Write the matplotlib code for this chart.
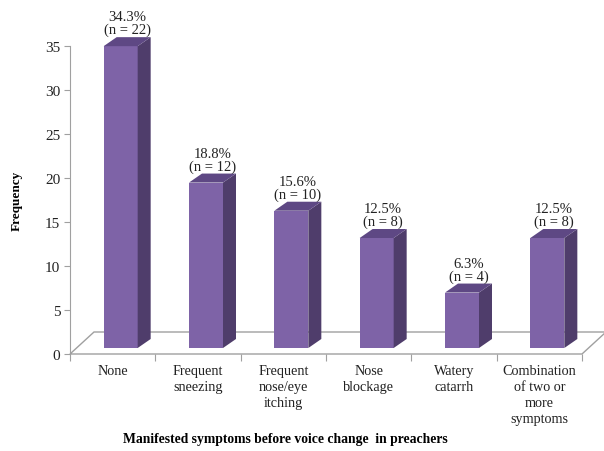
import numpy as np
import matplotlib.pyplot as plt
from matplotlib.patches import Polygon, Rectangle

plt.rcParams['font.family'] = ['Liberation Serif', 'DejaVu Serif']

# DATA

categories = ['None', 'Frequent\nsneezing', 'Frequent\nnose/eye\nitching',
              'Nose\nblockage', 'Watery\ncatarrh',
              'Combination\nof two or\nmore\nsymptoms']
percent = [34.3, 18.8, 15.6, 12.5, 6.3, 12.5]
counts = [22, 12, 10, 8, 4, 8]
yticks = [0, 5, 10, 15, 20, 25, 30, 35]

# COLOURS

front_c = '#7e63a7'
side_c = '#4f3d6b'
top_c = '#5e4884'
grid_c = '#a0a0a0'

# FIGURE (pixel based layout, 604x452)

W, H = 604, 452
fig = plt.figure(figsize=(W/100, H/100), dpi=100)
ax = fig.add_axes([70/W, 97/H, 512/W, 308/H])
ax.set_xlim(0, len(categories))
ax.set_ylim(0, 35)

# data units per pixel
sx = len(categories)/512
sy = 35/308

# floor of the 3d box
fdx, fdy = 24*sx, 22*sy
n = len(categories)
floor = Polygon([(0, 0), (n, 0), (n+fdx, fdy), (fdx, fdy)], closed=True,
                fc='white', ec=grid_c, lw=1, clip_on=False, zorder=1)
ax.add_patch(floor)

# bars (front face, side face, top face)
bw = 34*sx
boff = 0.5 - 9*sx
base = 6*sy
ddx, ddy = 13*sx, 9*sy
for i, (p, c) in enumerate(zip(percent, counts)):
    x0 = i + boff
    y0 = base
    ax.add_patch(Rectangle((x0, y0), bw, p, fc=front_c, ec='none',
                           clip_on=False, zorder=3))
    ax.add_patch(Polygon([(x0+bw, y0), (x0+bw+ddx, y0+ddy),
                          (x0+bw+ddx, y0+p+ddy), (x0+bw, y0+p)],
                         fc=side_c, ec='none', clip_on=False, zorder=3))
    ax.add_patch(Polygon([(x0, y0+p), (x0+bw, y0+p),
                          (x0+bw+ddx, y0+p+ddy), (x0+ddx, y0+p+ddy)],
                         fc=top_c, ec='none', clip_on=False, zorder=3))
    ax.text(x0 + (bw+ddx)/2, y0 + p + ddy + 1*sy, f'{p}%\n(n = {c})',
            ha='center', va='bottom', fontsize=10.5, linespacing=0.95,
            color='#222222', clip_on=False, zorder=4)

# axes styling
for s in ['top', 'right', 'bottom']:
    ax.spines[s].set_visible(False)
ax.spines['left'].set_color(grid_c)
ax.set_yticks(yticks)
ax.tick_params(axis='y', length=4, color=grid_c, labelsize=11, pad=3,
               labelcolor='#222222')
ax.set_xticks(np.arange(n+1))
ax.set_xticklabels([])
ax.tick_params(axis='x', which='major', length=5, color=grid_c)
ax.set_xticks(np.arange(n) + 0.5, minor=True)
ax.set_xticklabels(categories, minor=True, fontsize=10.2, linespacing=1.3,
                   color='#222222')
ax.tick_params(axis='x', which='minor', length=0, pad=7)

ax.set_ylabel('Frequency', fontsize=9.5, fontweight='bold', labelpad=16)
fig.text(285/W, 1 - 440/H, 'Manifested symptoms before voice change  in preachers',
         ha='center', va='center', fontsize=9.8, fontweight='bold')

fig.savefig('out.png', dpi=100)
